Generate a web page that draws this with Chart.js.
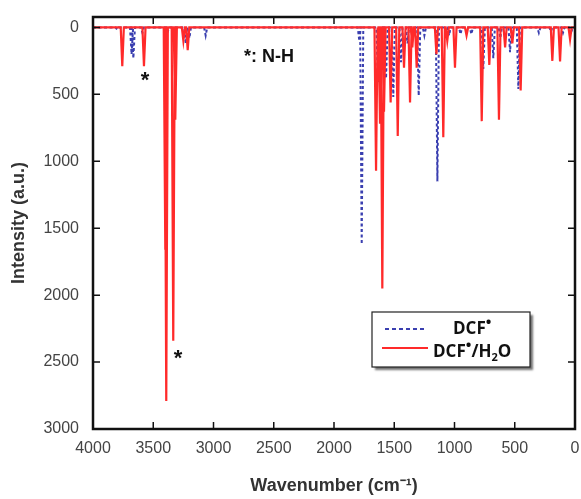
<!DOCTYPE html>
<html>
<head>
<meta charset="utf-8">
<script src="https://cdn.jsdelivr.net/npm/chart.js@4.4.0/dist/chart.umd.min.js"></script>
<style>
  html, body { margin: 0; padding: 0; background: #fff; }
  #wrap { width: 581px; height: 499px; }
</style>
</head>
<body>
<div id="wrap"><canvas id="chart_ir"></canvas></div>
<script>
// peak positions (cm-1) and intensities (a.u.)
var dcfWn = [3800, 3680, 3665, 3590, 3380, 3230, 3200, 3065, 1790, 1770, 1635, 1568, 1508, 1444, 1390, 1297, 1250, 1142, 1045, 950, 860, 761, 678, 620, 539, 470, 300, 200, 100, 30];
var dcfInt = [15, 200, 230, 40, 30, 120, 80, 60, 100, 1620, 410, 380, 520, 260, 120, 510, 60, 1150, 60, 50, 50, 310, 230, 80, 185, 460, 40, 30, 40, 30];

var dcfH2oWn = [3757, 3577, 3400, 3392, 3334, 3317, 3250, 3214, 1651, 1625, 1618, 1599, 1585, 1530, 1471, 1419, 1369, 1350, 1314, 1150, 1093, 1060, 996, 900, 774, 711, 631, 580, 520, 451, 188, 124, 41];
var dcfH2oInt = [290, 290, 1660, 2790, 2340, 690, 100, 170, 1070, 400, 720, 1950, 630, 560, 810, 300, 560, 150, 300, 200, 820, 100, 300, 60, 700, 280, 690, 150, 120, 470, 250, 255, 90];

var xTicks = [4000, 3500, 3000, 2500, 2000, 1500, 1000, 500, 0];
var yTicks = [0, 500, 1000, 1500, 2000, 2500, 3000];

var peakHalfWidth = 13;

// each stick becomes baseline -> peak -> baseline
function stickPoints(wn, inten) {
  var pts = [{ x: 4000, y: 0 }];
  for (var i = 0; i < wn.length; i++) {
    pts.push({ x: wn[i] + peakHalfWidth, y: 0 });
    pts.push({ x: wn[i], y: inten[i] });
    pts.push({ x: wn[i] - peakHalfWidth, y: 0 });
  }
  pts.push({ x: 0, y: 0 });
  return pts;
}

var frameBox = {
  id: 'frameBox',
  afterDatasetsDraw: function (chart) {
    var ctx = chart.ctx, a = chart.chartArea;
    var xs = chart.scales.x, ys = chart.scales.y;
    ctx.save();
    ctx.strokeStyle = '#111';
    ctx.lineWidth = 1.5;
    ctx.beginPath();
    xTicks.forEach(function (v) {
      var px = xs.getPixelForValue(v);
      ctx.moveTo(px, a.bottom); ctx.lineTo(px, a.bottom - 7);
      ctx.moveTo(px, a.top); ctx.lineTo(px, a.top + 7);
    });
    yTicks.forEach(function (v) {
      var py = ys.getPixelForValue(v);
      ctx.moveTo(a.left, py); ctx.lineTo(a.left + 7, py);
      ctx.moveTo(a.right, py); ctx.lineTo(a.right - 7, py);
    });
    ctx.stroke();
    ctx.lineWidth = 2.5;
    ctx.strokeRect(a.left, a.top, a.right - a.left, a.bottom - a.top);

    // annotations
    ctx.fillStyle = '#111';
    ctx.textBaseline = 'middle';
    ctx.font = 'bold 18px "Liberation Sans", Arial, sans-serif';
    ctx.textAlign = 'left';
    ctx.fillText('*: N-H', 244, 57);
    ctx.font = 'bold 22px "Liberation Sans", Arial, sans-serif';
    ctx.textAlign = 'center';
    ctx.fillText('*', 145, 81);
    ctx.fillText('*', 178, 359);

    // legend
    var lx = 372, ly = 312, lw = 158, lh = 55;
    ctx.save();
    ctx.shadowColor = 'rgba(0,0,0,0.55)';
    ctx.shadowOffsetX = 3;
    ctx.shadowOffsetY = 3;
    ctx.shadowBlur = 2;
    ctx.fillStyle = '#fff';
    ctx.fillRect(lx, ly, lw, lh);
    ctx.restore();
    ctx.lineWidth = 1.2;
    ctx.strokeStyle = '#222';
    ctx.strokeRect(lx, ly, lw, lh);

    ctx.lineWidth = 2;
    ctx.strokeStyle = '#3a3fb0';
    ctx.setLineDash([4, 3]);
    ctx.beginPath(); ctx.moveTo(385, 329); ctx.lineTo(426, 329); ctx.stroke();
    ctx.setLineDash([]);
    ctx.strokeStyle = '#ff2a2a';
    ctx.beginPath(); ctx.moveTo(382, 348); ctx.lineTo(428, 348); ctx.stroke();

    ctx.fillStyle = '#111';
    ctx.textAlign = 'left';
    ctx.textBaseline = 'alphabetic';
    var big = 'bold 17px "Open Sans", "Liberation Sans", sans-serif';
    var dot = 'bold 15px "Open Sans", "Liberation Sans", sans-serif';
    var small = 'bold 11px "Open Sans", "Liberation Sans", sans-serif';
    var x = 453;
    ctx.font = big; ctx.fillText('DCF', x, 334); x += ctx.measureText('DCF').width;
    ctx.font = dot; ctx.fillText('\u2022', x, 327);
    x = 433;
    ctx.font = big; ctx.fillText('DCF', x, 357); x += ctx.measureText('DCF').width;
    ctx.font = dot; ctx.fillText('\u2022', x, 350); x += ctx.measureText('\u2022').width;
    ctx.font = big; ctx.fillText('/H', x, 357); x += ctx.measureText('/H').width;
    ctx.font = small; ctx.fillText('2', x, 361); x += ctx.measureText('2').width;
    ctx.font = big; ctx.fillText('O', x, 357);
    ctx.restore();
  }
};

function plainTick(v) { return String(v); }

var chart_ir = new Chart(document.getElementById('chart_ir'), {
  type: 'line',
  data: {
    datasets: [
      {
        label: 'DCF\u2022/H\u2082O',
        data: stickPoints(dcfH2oWn, dcfH2oInt),
        borderColor: '#ff2a2a',
        borderWidth: 2.2,
        pointRadius: 0,
        tension: 0,
        fill: false
      },
      {
        label: 'DCF\u2022',
        data: stickPoints(dcfWn, dcfInt),
        borderColor: '#3a3fb0',
        borderWidth: 2,
        borderDash: [3, 2.5],
        pointRadius: 0,
        tension: 0,
        fill: false
      }
    ]
  },
  options: {
    animation: false,
    responsive: true,
    maintainAspectRatio: false,
    layout: { padding: { left: 0, right: 6, top: 17, bottom: 0 } },
    plugins: {
      legend: { display: false },
      tooltip: { enabled: false }
    },
    scales: {
      x: {
        type: 'linear',
        min: 0,
        max: 4000,
        reverse: true,
        afterBuildTicks: function (s) { s.ticks = xTicks.map(function (v) { return { value: v }; }); },
        afterFit: function (s) { s.height = 70; s.paddingLeft = 0; s.paddingRight = 0; },
        grid: { display: false, drawTicks: false },
        border: { display: false },
        ticks: {
          padding: 10,
          color: '#444',
          callback: plainTick,
          font: { family: '"Liberation Sans", Arial, sans-serif', size: 16 }
        },
        title: {
          display: true,
          text: 'Wavenumber (cm\u207B\u00B9)',
          color: '#333',
          padding: { top: 0, bottom: 2 },
          font: { family: '"Liberation Sans", Arial, sans-serif', size: 18, weight: 'bold' }
        }
      },
      y: {
        type: 'linear',
        min: -78,
        max: 3000,
        reverse: true,
        afterBuildTicks: function (s) { s.ticks = yTicks.map(function (v) { return { value: v }; }); },
        afterFit: function (s) { s.width = 93; s.paddingTop = 0; s.paddingBottom = 0; },
        grid: { display: false, drawTicks: false },
        border: { display: false },
        ticks: {
          padding: 14,
          color: '#444',
          callback: plainTick,
          font: { family: '"Liberation Sans", Arial, sans-serif', size: 16 }
        },
        title: {
          display: true,
          text: 'Intensity (a.u.)',
          color: '#333',
          padding: { top: 8, bottom: 0 },
          font: { family: '"Liberation Sans", Arial, sans-serif', size: 18, weight: 'bold' }
        }
      }
    }
  },
  plugins: [frameBox]
});
</script>
</body>
</html>
